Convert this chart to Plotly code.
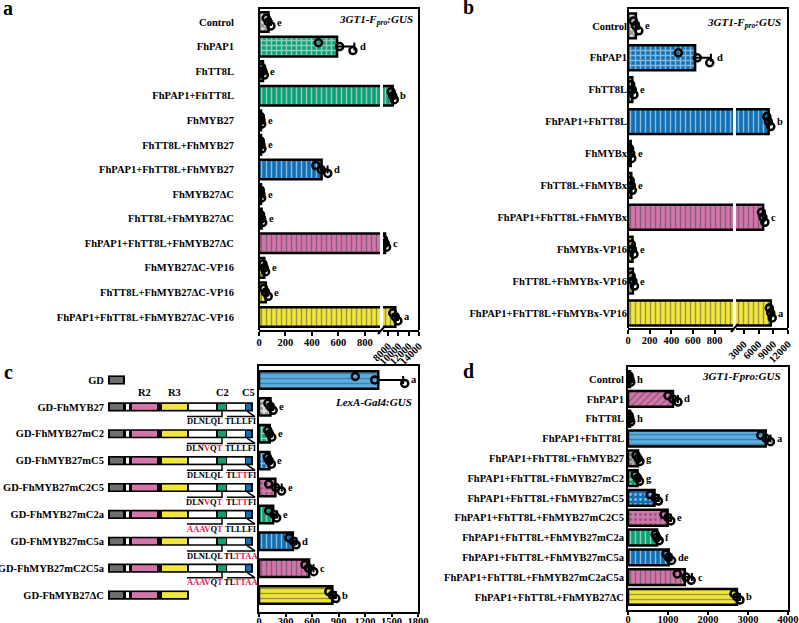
import numpy as np
import plotly.graph_objects as go

W, H = 799, 623
FONT = "Liberation Serif"

# ------------------------------------------------------------------ data
# Panel a : 3GT1-Fpro:GUS
a_labels = ["Control", "FhPAP1", "FhTT8L", "FhPAP1+FhTT8L", "FhMYB27", "FhTT8L+FhMYB27",
            "FhPAP1+FhTT8L+FhMYB27", "FhMYB27ΔC", "FhTT8L+FhMYB27ΔC",
            "FhPAP1+FhTT8L+FhMYB27ΔC", "FhMYB27ΔC-VP16", "FhTT8L+FhMYB27ΔC-VP16",
            "FhPAP1+FhTT8L+FhMYB27ΔC-VP16"]
a_reps = [[55, 70, 90], [450, 610, 710], [20, 30, 40], [8600, 8900, 9200], [10, 15, 20],
          [10, 15, 22], [430, 470, 520], [10, 15, 20], [12, 20, 28], [7100, 7400, 7700],
          [30, 40, 50], [35, 50, 70], [8900, 9400, 9900]]
a_letters = ["e", "d", "e", "b", "e", "e", "d", "e", "e", "c", "e", "e", "a"]
a_ticks_low = [0, 200, 400, 600, 800]
a_ticks_high = [8000, 10000, 12000, 14000]

# Panel b : 3GT1-Fpro:GUS
b_labels = ["Control", "FhPAP1", "FhTT8L", "FhPAP1+FhTT8L", "FhMYBx", "FhTT8L+FhMYBx",
            "FhPAP1+FhTT8L+FhMYBx", "FhMYBx-VP16", "FhTT8L+FhMYBx-VP16",
            "FhPAP1+FhTT8L+FhMYBx-VP16"]
b_reps = [[50, 70, 100], [465, 640, 755], [25, 40, 55], [7700, 8000, 8500], [15, 25, 35],
          [20, 30, 40], [6600, 6900, 7300], [30, 40, 55], [30, 45, 60], [8200, 8500, 8800]]
b_letters = ["e", "d", "e", "b", "e", "e", "c", "e", "e", "a"]
b_ticks_low = [0, 200, 400, 600, 800]
b_ticks_high = [3000, 6000, 9000, 12000]

# Panel c : LexA-Gal4:GUS
c_labels = ["GD", "GD-FhMYB27", "GD-FhMYB27mC2", "GD-FhMYB27mC5", "GD-FhMYB27mC2C5",
            "GD-FhMYB27mC2a", "GD-FhMYB27mC5a", "GD-FhMYB27mC2C5a", "GD-FhMYB27ΔC"]
c_reps = [[1090, 1310, 1650], [100, 130, 160], [100, 120, 145], [95, 115, 140],
          [110, 190, 255], [110, 170, 200], [340, 390, 420], [520, 560, 620], [790, 830, 870]]
c_letters = ["a", "e", "e", "e", "e", "e", "d", "c", "b"]
c_ticks = [0, 300, 600, 900, 1200, 1500, 1800]
c_c2_motif = [None, "DLNLQL", "DLNVQT", "DLNLQL", "DLNVQT", "AAAVQT", "DLNLQL", "AAAVQT", None]
c_c5_motif = [None, "TLLLFI", "TLLLFI", "TLTTFI", "TLTTFI", "TLLLFI", "TLTTAA", "TLTTAA", None]
c2_wild, c5_wild = "DLNLQL", "TLLLFI"
# protein schematic (construct coordinate units)
dom_names = ["", "", "R2", "R3", "", "C2", "", "C5"]
dom_start = [2, 18, 24, 54, 81, 110, 119, 138]
dom_end = [15, 21, 49, 79, 108, 118, 137, 143]
construct_len = [17, 145, 145, 145, 145, 145, 145, 145, 81]
construct_ndom = [1, 8, 8, 8, 8, 8, 8, 8, 4]

# Panel d : 3GT1-Fpro:GUS
d_labels = ["Control", "FhPAP1", "FhTT8L", "FhPAP1+FhTT8L", "FhPAP1+FhTT8L+FhMYB27",
            "FhPAP1+FhTT8L+FhMYB27mC2", "FhPAP1+FhTT8L+FhMYB27mC5",
            "FhPAP1+FhTT8L+FhMYB27mC2C5", "FhPAP1+FhTT8L+FhMYB27mC2a",
            "FhPAP1+FhTT8L+FhMYB27mC5a", "FhPAP1+FhTT8L+FhMYB27mC2aC5a",
            "FhPAP1+FhTT8L+FhMYB27ΔC"]
d_reps = [[30, 50, 70], [1000, 1120, 1250], [30, 50, 70], [3320, 3450, 3560], [200, 250, 300],
          [180, 240, 290], [550, 680, 760], [900, 1000, 1070], [680, 720, 780],
          [950, 1010, 1090], [1230, 1450, 1580], [2650, 2720, 2800]]
d_letters = ["h", "d", "h", "a", "g", "g", "f", "e", "f", "de", "c", "b"]
d_ticks = [0, 1000, 2000, 3000, 4000]

# ------------------------------------------------------------------ styles
GREEN, BLUE, PINK, YEL, SKY = "#0f9e76", "#1170b5", "#d275ab", "#f0e63c", "#56b0e6"
LGRAY, MGRAY, DGRAY = "#d9d9d9", "#a8a8a8", "#6e6e6e"
RED = "#e8175d"

a_col = [LGRAY, GREEN, GREEN, GREEN, BLUE, BLUE, BLUE, PINK, PINK, PINK, YEL, YEL, YEL]
a_pat = ["x", "+", "|", "|", "", "", "|", "", "", "|", ".", "|", "|"]
b_col = [LGRAY, BLUE, BLUE, BLUE, PINK, PINK, PINK, YEL, YEL, YEL]
b_pat = ["x", "+", "|", "|", "", "", "|", ".", "|", "|"]
c_col = [SKY, LGRAY, GREEN, BLUE, PINK, GREEN, BLUE, PINK, YEL]
c_pat = ["-", ".", "+", "+", ".", "|", "|", "|", "-"]
d_col = [MGRAY, PINK, MGRAY, SKY, MGRAY, GREEN, BLUE, PINK, GREEN, BLUE, PINK, YEL]
d_pat = ["", "/", "", "-", ".", ".", ".", ".", "|", "|", "|", "-"]
dom_col = [DGRAY, "white", PINK, YEL, "white", GREEN, "white", BLUE]
jit = [-0.2, 0.0, 0.2]


def px(x):
    return x / W


def py(y):
    return 1 - y / H


fig = go.Figure()
annotations = []


def bfont(size=10.5, color="black"):
    return dict(family=FONT, size=size, color=color, weight="bold")


def add_panel(reps, letters, cols, pats, width, axes, yname, low_max=None):
    n = len(reps)
    means = [float(np.mean(r)) for r in reps]
    sds = [float(np.std(r, ddof=1)) for r in reps]
    fg = ["white" if c == LGRAY and p == "x" else "black" for c, p in zip(cols, pats)]
    sol = [0.5 if p in ("+", "x") else 0.28 for p in pats]
    for k, xa in enumerate(axes):
        if k == 0:
            sel = list(range(n))
        else:
            sel = [i for i in range(n) if means[i] > low_max]
        err = [sds[i] if (k == 1 or low_max is None or means[i] <= low_max) else 0 for i in sel]
        fig.add_trace(go.Bar(
            orientation="h", x=[means[i] for i in sel], y=sel, width=width,
            xaxis=xa, yaxis=yname,
            marker=dict(color=[cols[i] for i in sel], line=dict(color="black", width=2.5),
                        pattern=dict(shape=[pats[i] for i in sel],
                                     fgcolor=[fg[i] for i in sel], size=5,
                                     solidity=[sol[i] for i in sel])),
            error_x=dict(type="data", array=err, arrayminus=[0] * len(sel), symmetric=False,
                         color="black", thickness=2, width=4),
            showlegend=False, hoverinfo="skip"))
        xs, ys = [], []
        for i in sel:
            for j, v in enumerate(reps[i]):
                xs.append(v)
                ys.append(i + jit[j] * width)
        fig.add_trace(go.Scatter(
            x=xs, y=ys, mode="markers", xaxis=xa, yaxis=yname,
            marker=dict(symbol="circle-open", size=7, color="black", line=dict(width=2.5)),
            showlegend=False, hoverinfo="skip"))
    for i in range(n):
        top = max(means[i] + sds[i], max(reps[i]))
        xa = axes[0]
        if low_max is not None and top > low_max:
            xa = axes[1]
        annotations.append(dict(x=top, y=i, xref=xa, yref=yname, text=letters[i],
                                showarrow=False, xanchor="left", xshift=4,
                                font=bfont(10.5)))


add_panel(a_reps, a_letters, a_col, a_pat, 0.8, ["x", "x2"], "y", low_max=915)
add_panel(b_reps, b_letters, b_col, b_pat, 0.78, ["x3", "x4"], "y2", low_max=970)
add_panel(c_reps, c_letters, c_col, c_pat, 0.65, ["x5"], "y3")
add_panel(d_reps, d_letters, d_col, d_pat, 0.8, ["x7"], "y4")

# ------------------------------------------------------------------ schematic (panel c)
c_idx = list(range(len(c_labels)))
fig.add_trace(go.Bar(orientation="h", y=c_idx, x=construct_len, base=[0] * len(c_idx),
                     width=0.34, marker=dict(color="black", line=dict(width=0)),
                     xaxis="x6", yaxis="y3", showlegend=False, hoverinfo="skip"))
for d in range(len(dom_start)):
    rows = [i for i in c_idx if construct_ndom[i] > d]
    fig.add_trace(go.Bar(orientation="h", y=rows,
                         x=[dom_end[d] - dom_start[d]] * len(rows),
                         base=[dom_start[d]] * len(rows), width=0.22,
                         marker=dict(color=dom_col[d], line=dict(width=0)),
                         xaxis="x6", yaxis="y3", showlegend=False, hoverinfo="skip"))
# brackets under the C2 / C5 motifs
bx, by = [], []
for i in c_idx:
    if c_c2_motif[i] is None:
        continue
    bx += [dom_start[4] - 2, dom_end[5] - 4, dom_end[5] - 4, None]
    by += [i + 0.36, i + 0.36, i + 0.16, None]
    bx += [dom_start[6], dom_end[7] + 4, dom_start[7] + 1, None]
    by += [i + 0.36, i + 0.36, i + 0.16, None]
fig.add_trace(go.Scatter(x=bx, y=by, mode="lines", line=dict(color="black", width=1.5),
                         xaxis="x6", yaxis="y3", showlegend=False, hoverinfo="skip"))


def motif_html(m, wild):
    out = ""
    for ch, w in zip(m, wild):
        out += f'<span style="color:{RED}">{ch}</span>' if ch != w else ch
    return out


for i in c_idx:
    if c_c2_motif[i] is None:
        continue
    annotations.append(dict(x=(dom_start[4] + dom_end[5]) / 2 - 3, y=i + 0.53, xref="x6",
                            yref="y3", text=motif_html(c_c2_motif[i], c2_wild),
                            showarrow=False, font=bfont(8.5)))
    annotations.append(dict(x=(dom_start[6] + dom_end[7]) / 2 + 2, y=i + 0.53, xref="x6",
                            yref="y3", text=motif_html(c_c5_motif[i], c5_wild),
                            showarrow=False, font=bfont(8.5)))
for d, name in enumerate(dom_names):
    if name:
        annotations.append(dict(x=(dom_start[d] + dom_end[d]) / 2, y=0.47, xref="x6",
                                yref="y3", text=name, showarrow=False, font=bfont(10.5)))

# ------------------------------------------------------------------ titles / panel letters
titles = [("<i>3GT1-F<sub>pro</sub>:GUS</i>", 415, 20),
          ("<i>3GT1-F<sub>pro</sub>:GUS</i>", 783, 23),
          ("<i>LexA-Gal4:GUS</i>", 414, 402),
          ("<i>3GT1-Fpro:GUS</i>", 783, 376)]
for t, x, y in titles:
    annotations.append(dict(x=px(x), y=py(y), xref="paper", yref="paper", text=t,
                            showarrow=False, xanchor="right", yanchor="middle",
                            font=bfont(11)))
for t, x, y in [("a", 8, 8), ("b", 468, 7), ("c", 8, 372), ("d", 468, 371)]:
    annotations.append(dict(x=px(x), y=py(y), xref="paper", yref="paper", text=t,
                            showarrow=False, xanchor="center", yanchor="middle",
                            font=bfont(20)))

# ------------------------------------------------------------------ axes
xbase = dict(showgrid=False, zeroline=False, showline=True, linecolor="black", linewidth=2,
             ticks="outside", ticklen=4, tickwidth=2, tickcolor="black",
             tickfont=bfont(10.5), automargin=False, ticklabelstandoff=-3)


def xax(**kw):
    d = dict(xbase)
    d.update(kw)
    return d


def yax(labels, rng, standoff, **kw):
    d = dict(showgrid=False, zeroline=False, tickmode="array",
             tickvals=list(range(len(labels))), ticktext=labels, range=rng,
             tickfont=bfont(10.5), linecolor="black", linewidth=2, automargin=False)
    if standoff > 0:
        d.update(ticks="outside", ticklen=standoff, tickcolor="rgba(0,0,0,0)")
    else:
        d.update(ticks="")
    d.update(kw)
    return d


fig.update_layout(
    width=W, height=H, margin=dict(l=0, r=0, t=0, b=0),
    paper_bgcolor="white", plot_bgcolor="white", barmode="overlay",
    font=dict(family=FONT, color="black"),
    xaxis=xax(domain=[px(259), px(380)], anchor="y", range=[0, 915],
              tickvals=a_ticks_low),
    xaxis2=xax(domain=[px(383), px(419)], anchor="y", range=[7000, 14020],
               tickvals=a_ticks_high, tickformat="d", tickangle=-45, ticklabelstandoff=0),
    yaxis=yax(a_labels, [12.53, -0.57], 22, domain=[py(330), py(8)], anchor="x",
              showline=False),
    xaxis3=xax(domain=[px(628), px(733)], anchor="y2", range=[0, 970],
               tickvals=b_ticks_low),
    xaxis4=xax(domain=[px(736), px(788)], anchor="y2", range=[1400, 12020],
               tickvals=b_ticks_high, tickformat="d", tickangle=-45, ticklabelstandoff=0),
    yaxis2=yax(b_labels, [9.47, -0.56], 0, domain=[py(328), py(8)], anchor="x3",
               showline=False),
    xaxis5=xax(domain=[px(259), px(418)], anchor="y3", range=[0, 1800],
               tickvals=c_ticks, mirror=True, ticklen=3, ticklabelstandoff=-5),
    yaxis3=yax(c_labels, [8.63, -0.52], 151, domain=[py(612), py(366)], anchor="x5",
               showline=True, mirror=True),
    xaxis6=dict(domain=[px(108), px(258)], anchor="y3", range=[0, 150], visible=False,
                fixedrange=True, automargin=False),
    xaxis7=xax(domain=[px(628), px(788)], anchor="y4", range=[0, 4000],
               tickvals=d_ticks, mirror=True, ticklen=3, ticklabelstandoff=-5),
    yaxis4=yax(d_labels, [11.66, -0.61], 0, domain=[py(610), py(367)], anchor="x7",
               showline=True, mirror=True),
    annotations=annotations,
)

# frames for the broken-axis panels and the axis break marks
shapes = []
for l, t, r, b in [(259, 8, 419, 330), (628, 8, 788, 328)]:
    shapes.append(dict(type="path", xref="paper", yref="paper",
                       path=f"M {px(l)},{py(b)} L {px(l)},{py(t)} L {px(r)},{py(t)} L {px(r)},{py(b)}",
                       line=dict(color="black", width=2)))
for xb, yb in [(381.5, 330), (734.5, 328)]:
    shapes.append(dict(type="line", xref="paper", yref="paper",
                       x0=px(xb - 3.5), y0=py(yb + 4), x1=px(xb + 3.5), y1=py(yb - 4),
                       line=dict(color="black", width=2)))
fig.update_layout(shapes=shapes)

fig.write_html("out.html", config={"displayModeBar": False},
               post_script="document.body.style.margin='0';document.body.style.overflow='hidden';")
